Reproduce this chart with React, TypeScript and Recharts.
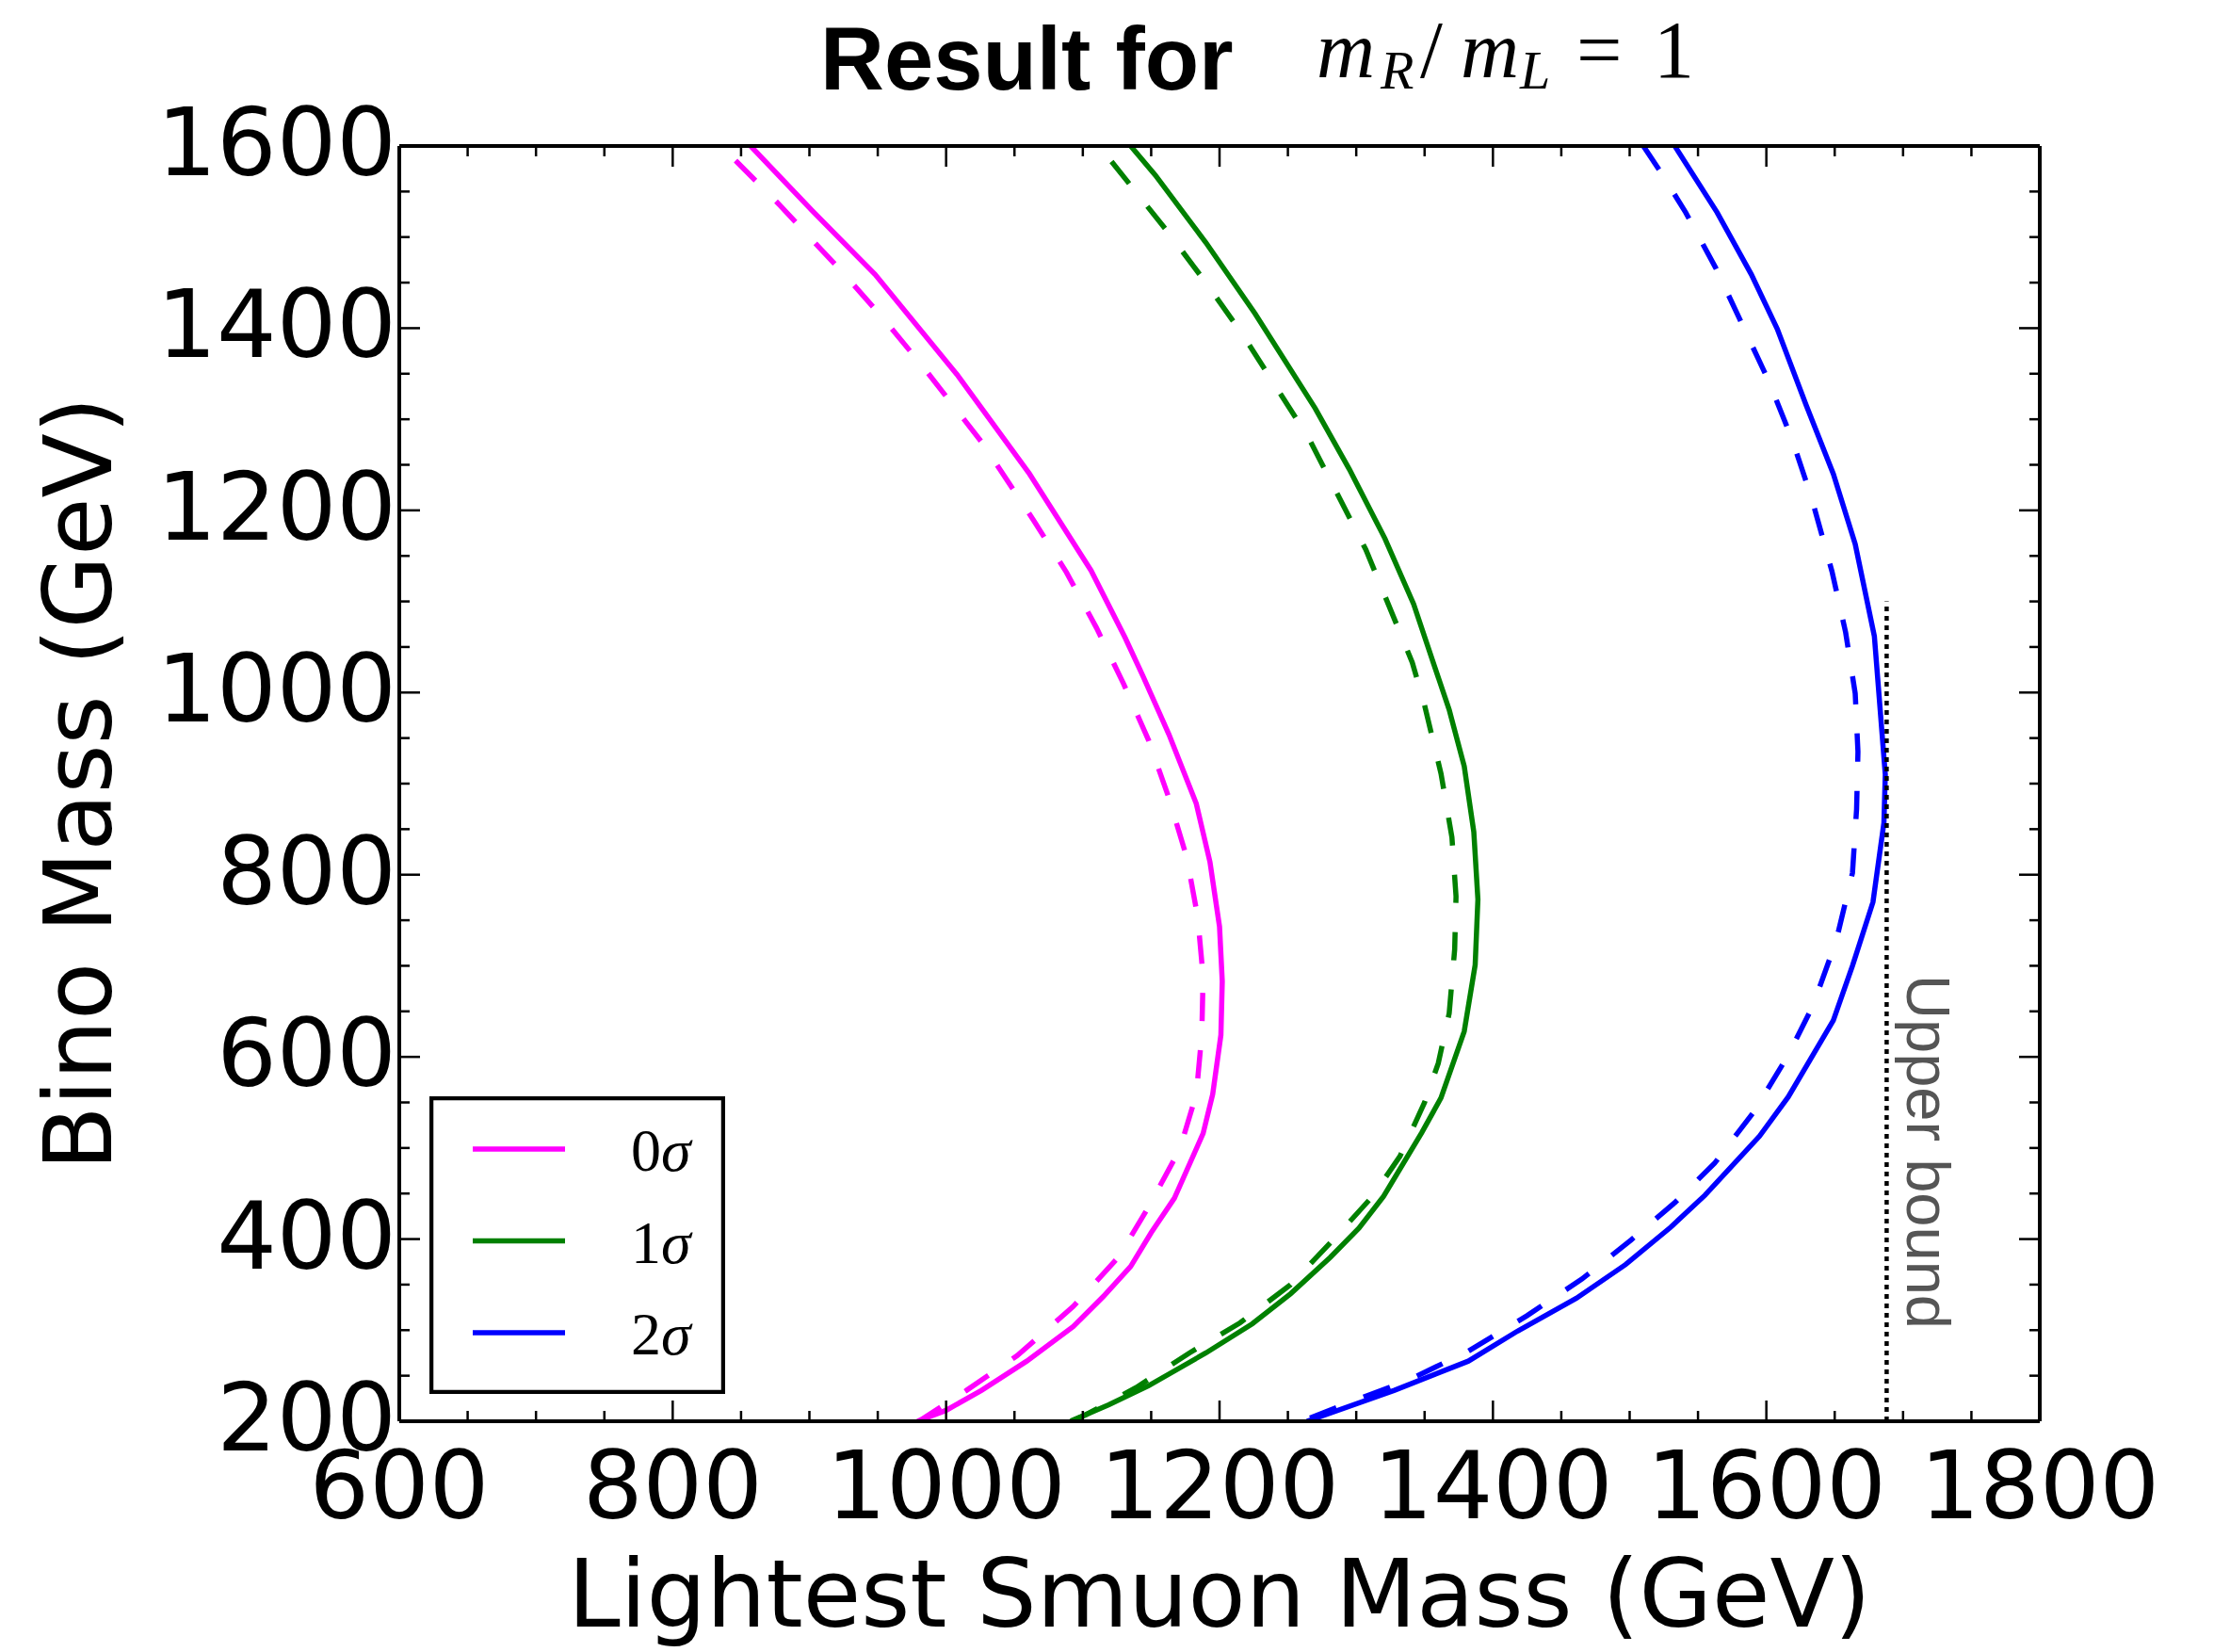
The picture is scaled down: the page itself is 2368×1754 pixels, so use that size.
import React from "react";
import { ComposedChart, Line, XAxis, YAxis, ReferenceLine, ReferenceDot, Legend } from "recharts";

type Pair = [number, number]; // [smuon mass, bino mass] in GeV

// solid curves from top to bottom
const sigma0Solid: Pair[] = [
  [857, 1600], [902, 1529], [948, 1459], [1008, 1349], [1061, 1240], [1106, 1134], [1131, 1060], [1144, 1018],
  [1163, 954], [1183, 878], [1193, 814], [1200, 743], [1202, 683], [1201, 624], [1195, 559], [1188, 516],
  [1167, 445], [1150, 407], [1135, 370], [1115, 337], [1093, 304], [1059, 266], [1026, 234], [1000, 212], [979, 200],
];
const sigma1Solid: Pair[] = [
  [1135, 1600], [1153, 1568], [1190, 1494], [1226, 1416], [1270, 1312], [1295, 1245], [1321, 1169], [1342, 1097],
  [1357, 1030], [1368, 981], [1379, 919], [1386, 847], [1389, 773], [1387, 701], [1379, 628], [1362, 555],
  [1348, 517], [1320, 447], [1302, 412], [1281, 380], [1252, 340], [1224, 307], [1190, 275], [1148, 239],
  [1119, 218], [1091, 200],
];
const sigma2Solid: Pair[] = [
  [1533, 1600], [1564, 1527], [1589, 1459], [1608, 1399], [1629, 1316], [1649, 1240], [1665, 1163], [1679, 1062],
  [1684, 967], [1687, 910], [1686, 857], [1678, 770], [1663, 700], [1649, 640], [1616, 556], [1595, 513],
  [1555, 448], [1530, 413], [1497, 372], [1461, 335], [1418, 299], [1382, 266], [1328, 234], [1264, 200],
];

// dashed curves
const sigma0Dashed: Pair[] = [
  [846, 1584], [879, 1534], [925, 1460], [955, 1409], [984, 1356], [1027, 1273], [1064, 1189], [1088, 1132],
  [1110, 1071], [1130, 1009], [1148, 948], [1163, 884], [1176, 819], [1184, 754], [1188, 688], [1187, 624],
  [1183, 559], [1171, 499], [1148, 435], [1126, 380], [1093, 326], [1052, 272], [1015, 234], [980, 200],
];
const sigma1Dashed: Pair[] = [
  [1121, 1583], [1163, 1504], [1190, 1450], [1216, 1395], [1265, 1280], [1307, 1157], [1341, 1033], [1350, 986],
  [1362, 911], [1370, 841], [1373, 776], [1372, 718], [1368, 648], [1360, 593], [1350, 550], [1332, 491],
  [1312, 447], [1283, 399], [1252, 350], [1215, 308], [1178, 275], [1139, 237], [1102, 207], [1091, 200],
];
const sigma2Dashed: Pair[] = [
  [1510, 1600], [1522, 1573], [1541, 1527], [1563, 1466], [1583, 1402], [1602, 1341], [1619, 1277], [1633, 1214],
  [1648, 1133], [1658, 1066], [1665, 999], [1667, 935], [1666, 872], [1663, 802], [1651, 727], [1634, 656],
  [1616, 602], [1591, 540], [1562, 483], [1533, 440], [1501, 399], [1465, 356], [1425, 316], [1382, 277],
  [1338, 245], [1299, 223], [1260, 200],
];

const sigmaLevels = [0, 1, 2];
const sigmaColors = ["#ff00ff", "#008000", "#0000ff"];

const xTicks = [600, 650, 700, 750, 800, 850, 900, 950, 1000, 1050, 1100, 1150, 1200, 1250, 1300, 1350, 1400, 1450, 1500, 1550, 1600, 1650, 1700, 1750, 1800];
const xLabelTicks = [600, 800, 1000, 1200, 1400, 1600, 1800];
const yTicks = [200, 250, 300, 350, 400, 450, 500, 550, 600, 650, 700, 750, 800, 850, 900, 950, 1000, 1050, 1100, 1150, 1200, 1250, 1300, 1350, 1400, 1450, 1500, 1550, 1600];
const yLabelTicks = [200, 400, 600, 800, 1000, 1200, 1400, 1600];

const upperBoundMass = 1688;
const upperBoundBino: [number, number] = [200, 1100];
const upperBoundLabelAt = { smuon: 1703, bino: 690 };

const SANS = "'DejaVu Sans', sans-serif";
const SERIF = "'Liberation Serif', serif";
const TICK_W = 2.5;
const CURVE_W = 5.5;

const toPoints = (pairs: Pair[]) => pairs.map(([smuon, bino]) => ({ smuon, bino }));
const solidCurves = [sigma0Solid, sigma1Solid, sigma2Solid];
const dashedCurves = [sigma0Dashed, sigma1Dashed, sigma2Dashed];

const tickLen = (major: boolean) => (major ? 22 : 11);

const BottomTick = (props: any) => {
  const { x, y, payload } = props;
  const major = xLabelTicks.includes(payload.value);
  return (
    <g>
      <line x1={x} x2={x} y1={y} y2={y - tickLen(major)} stroke="#000" strokeWidth={TICK_W} />
      {major && (
        <text x={x} y={y + 103} textAnchor="middle" fontFamily={SANS} fontSize={100} fill="#000">
          {payload.value}
        </text>
      )}
    </g>
  );
};

const TopTick = (props: any) => {
  const { x, y, payload } = props;
  const major = xLabelTicks.includes(payload.value);
  return <line x1={x} x2={x} y1={y} y2={y + tickLen(major)} stroke="#000" strokeWidth={TICK_W} />;
};

const LeftTick = (props: any) => {
  const { x, y, payload } = props;
  const major = yLabelTicks.includes(payload.value);
  return (
    <g>
      <line x1={x} x2={x + tickLen(major)} y1={y} y2={y} stroke="#000" strokeWidth={TICK_W} />
      {major && (
        <text x={x - 3} y={y + 31} textAnchor="end" fontFamily={SANS} fontSize={100} fill="#000">
          {payload.value}
        </text>
      )}
    </g>
  );
};

const RightTick = (props: any) => {
  const { x, y, payload } = props;
  const major = yLabelTicks.includes(payload.value);
  return <line x1={x} x2={x - tickLen(major)} y1={y} y2={y} stroke="#000" strokeWidth={TICK_W} />;
};

const LegendBox = () => (
  <svg width={314} height={316} style={{ display: "block" }}>
    <rect x={2} y={2} width={310} height={312} fill="#fff" stroke="#000" strokeWidth={4.5} />
    {sigmaLevels.map((level, i) => {
      const cy = 56 + i * 97.5;
      return (
        <g key={level}>
          <line x1={46} x2={144} y1={cy} y2={cy} stroke={sigmaColors[i]} strokeWidth={CURVE_W} />
          <text x={214} y={cy + 23} fontFamily={SERIF} fontSize={64} fill="#000">
            {level}
            <tspan fontStyle="italic">σ</tspan>
          </text>
        </g>
      );
    })}
  </svg>
);

const axisLine = { stroke: "#000", strokeWidth: 4 };

export default function App() {
  return (
    <div style={{ position: "absolute", left: 0, top: 0, width: 2368, height: 1754, background: "#fff" }}>
      <ComposedChart width={2368} height={1754} margin={{ top: 101, right: 0, bottom: 0, left: 0 }}>
        <XAxis
          xAxisId="bottom"
          dataKey="smuon"
          type="number"
          domain={[600, 1800]}
          allowDataOverflow
          ticks={xTicks}
          interval={0}
          height={245}
          tickSize={0}
          tickMargin={0}
          tickLine={false}
          axisLine={axisLine}
          tick={(p: any) => <BottomTick {...p} />}
          label={(p: any) => {
            const vb = p.viewBox;
            return (
              <text x={vb.x + vb.width / 2} y={vb.y + 218} textAnchor="middle" fontFamily={SANS} fontSize={100} fill="#000">
                Lightest Smuon Mass (GeV)
              </text>
            );
          }}
        />
        <XAxis
          xAxisId="top"
          orientation="top"
          dataKey="smuon"
          type="number"
          domain={[600, 1800]}
          allowDataOverflow
          ticks={xTicks}
          interval={0}
          height={54}
          tickSize={0}
          tickMargin={0}
          tickLine={false}
          axisLine={axisLine}
          tick={(p: any) => <TopTick {...p} />}
        />
        <YAxis
          yAxisId="left"
          type="number"
          domain={[200, 1600]}
          allowDataOverflow
          ticks={yTicks}
          interval={0}
          width={424}
          tickSize={0}
          tickMargin={0}
          tickLine={false}
          axisLine={axisLine}
          tick={(p: any) => <LeftTick {...p} />}
          label={(p: any) => {
            const vb = p.viewBox;
            const cx = vb.x + 118;
            const cy = vb.y + vb.height / 2;
            return (
              <text x={cx} y={cy} transform={`rotate(-90 ${cx} ${cy})`} textAnchor="middle" fontFamily={SANS} fontSize={100} fill="#000">
                Bino Mass (GeV)
              </text>
            );
          }}
        />
        <YAxis
          yAxisId="right"
          orientation="right"
          type="number"
          domain={[200, 1600]}
          allowDataOverflow
          ticks={yTicks}
          interval={0}
          width={202}
          tickSize={0}
          tickMargin={0}
          tickLine={false}
          axisLine={axisLine}
          tick={(p: any) => <RightTick {...p} />}
        />

        {sigmaLevels.map((level, i) => (
          <Line
            key={`solid-${level}`}
            xAxisId="bottom"
            yAxisId="left"
            data={toPoints(solidCurves[i])}
            dataKey="bino"
            name={`${level}σ`}
            type="linear"
            stroke={sigmaColors[i]}
            strokeWidth={CURVE_W}
            dot={false}
            activeDot={false}
            isAnimationActive={false}
          />
        ))}
        {sigmaLevels.map((level, i) => (
          <Line
            key={`dashed-${level}`}
            xAxisId="bottom"
            yAxisId="left"
            data={toPoints(dashedCurves[i])}
            dataKey="bino"
            name={`${level}σ dashed`}
            legendType="none"
            type="linear"
            stroke={sigmaColors[i]}
            strokeWidth={CURVE_W}
            strokeDasharray="30 31"
            dot={false}
            activeDot={false}
            isAnimationActive={false}
          />
        ))}

        <ReferenceLine
          xAxisId="bottom"
          yAxisId="left"
          segment={[
            { x: upperBoundMass, y: upperBoundBino[0] },
            { x: upperBoundMass, y: upperBoundBino[1] },
          ]}
          stroke="#000"
          strokeWidth={4.5}
          strokeDasharray="5 5"
        />
        <ReferenceDot
          xAxisId="bottom"
          yAxisId="left"
          x={upperBoundLabelAt.smuon}
          y={upperBoundLabelAt.bino}
          r={0}
          fill="none"
          stroke="none"
          label={(p: any) => {
            const vb = p.viewBox;
            return (
              <text x={vb.x} y={vb.y} transform={`rotate(90 ${vb.x} ${vb.y})`} fontFamily="'Liberation Sans', sans-serif" fontSize={65} fill="#555555">
                Upper bound
              </text>
            );
          }}
        />

        <Legend
          layout="horizontal"
          align="center"
          verticalAlign="middle"
          wrapperStyle={{ left: 456, top: 1164, width: 314, height: 316 }}
          content={() => <LegendBox />}
        />

        <text x={871} y={95} fontFamily="'Liberation Sans', sans-serif" fontWeight="bold" fontSize={94} fill="#000">
          Result for
        </text>
        <text y={82} fontFamily={SERIF} fill="#000">
          <tspan x={1398} fontSize={86} fontStyle="italic">m</tspan>
          <tspan x={1466} dy={12} fontSize={58} fontStyle="italic">R</tspan>
          <tspan x={1508} dy={-12} fontSize={86}>/</tspan>
          <tspan x={1551} fontSize={86} fontStyle="italic">m</tspan>
          <tspan x={1614} dy={12} fontSize={58} fontStyle="italic">L</tspan>
          <tspan x={1674} dy={-12} fontSize={86}>=</tspan>
          <tspan x={1756} fontSize={86}>1</tspan>
        </text>
      </ComposedChart>
    </div>
  );
}
